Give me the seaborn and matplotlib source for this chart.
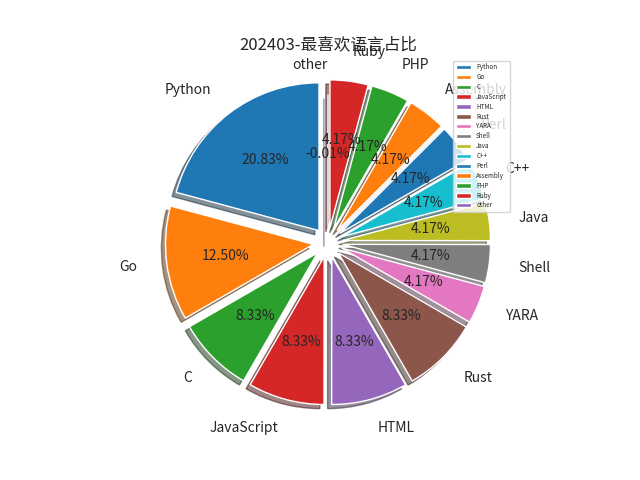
import matplotlib
matplotlib.use('Agg')
import matplotlib.pyplot as plt
import seaborn as sns

# favourite language share, March 2024 (percent)
languages = ['Python', 'Go', 'C', 'JavaScript', 'HTML', 'Rust', 'YARA', 'Shell',
             'Java', 'C++', 'Perl', 'Assembly', 'PHP', 'Ruby', 'other']
shares = [20.83, 12.50, 8.33, 8.33, 8.33, 8.33, 4.17, 4.17,
          4.17, 4.17, 4.17, 4.17, 4.17, 4.17, -0.01]

sns.set_style('white')
plt.rcParams['font.family'] = ['Noto Sans CJK SC', 'DejaVu Sans']
plt.rcParams['axes.unicode_minus'] = False

colors = sns.color_palette('tab10', 10)
colors = [colors[i % 10] for i in range(len(languages))]

# wedges can't be negative, the label still shows the leftover
sizes = [max(s, 0) for s in shares]
shown = iter(shares)
explode = [0.1] * (len(languages) - 1) + [0]

fig, ax = plt.subplots(figsize=(6.4, 4.8), dpi=100)
ax.pie(sizes, labels=languages, colors=colors, explode=explode,
       autopct=lambda p: '%1.2f%%' % next(shown), startangle=90, shadow=True,
       labeldistance=1.2, pctdistance=0.6)
ax.set_title('202403-最喜欢语言占比')
ax.legend(loc='upper right', fontsize=4.5, labelspacing=0.3, handlelength=2.5)

plt.savefig('out.png', dpi=100)
